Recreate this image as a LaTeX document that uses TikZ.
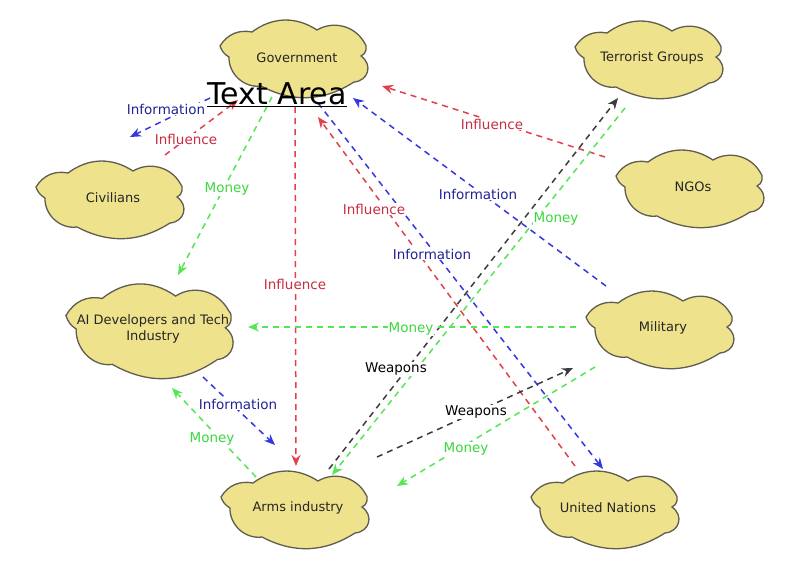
\documentclass[tikz,border=0pt]{standalone}
\usepackage{fontspec}
\setmainfont{DejaVu Sans}
\usetikzlibrary{arrows.meta}
\definecolor{cloudfill}{RGB}{238,226,140}
\definecolor{cloudline}{RGB}{95,92,80}
\definecolor{infoL}{RGB}{55,55,225}
\definecolor{inflL}{RGB}{225,65,75}
\definecolor{monL}{RGB}{85,230,85}
\definecolor{weapL}{RGB}{60,60,60}
\definecolor{infoT}{RGB}{35,35,150}
\definecolor{inflT}{RGB}{200,45,65}
\definecolor{monT}{RGB}{60,215,60}
\begin{document}
\begin{tikzpicture}[x=1pt,y=-1pt,
  cloudstyle/.style={draw=cloudline, fill=cloudfill, line width=1.3pt},
  cloudpic/.pic={
    \path[cloudstyle] (-77,-11) to[bend left=35] (-45,-25) to[bend left=35] (20,-27)
      to[bend left=45] (67,-15) to[bend left=60] (64,-1)
      to[bend left=70,looseness=1.4] (57,25) to[bend left=30] (-36,29)
      to[bend left=50] (-68,0) to[bend left=20] cycle;
  },
  cloudtext/.style={inner sep=0pt, font=\fontsize{13}{16}\selectfont, text=black!85, align=center},
  conn/.style={line width=1.5pt, dash pattern=on 6pt off 5pt,
    -{Stealth[length=11pt,width=9pt]}},
  info/.style={conn, infoL},
  infl/.style={conn, inflL},
  mon/.style={conn, monL},
  weap/.style={conn, weapL},
  lab/.style={fill=white, inner sep=1pt, font=\fontsize{13.5}{15}\selectfont},
  labinfo/.style={lab, text=infoT},
  labinfl/.style={lab, text=inflT},
  labmon/.style={lab, text=monT},
  labweap/.style={lab, text=black}
]
\useasboundingbox[fill=white] (0,0) rectangle (800,566);

% clouds
\pic at (297,57) {cloudpic};
\pic at (652,58) {cloudpic};
\pic at (693,187) {cloudpic};
\pic at (113,198) {cloudpic};
\pic[xscale=1.13,yscale=1.22] at (153,329) {cloudpic};
\pic at (663,328) {cloudpic};
\pic at (608,508) {cloudpic};
\pic at (298,508) {cloudpic};

\node[cloudtext] (gov) at (297,58) {Government};
\node[cloudtext] (terr) at (652,58) {Terrorist Groups};
\node[cloudtext] (ngo) at (693,187) {NGOs};
\node[cloudtext] (civ) at (113,198) {Civilians};
\node[cloudtext] (ai) at (153,329) {AI Developers and Tech\\Industry};
\node[cloudtext] (mil) at (663,328) {Military};
\node[cloudtext] (un) at (608,508) {United Nations};
\node[cloudtext] (arms) at (298,508) {Arms industry};

% connectors
\draw[info] ([shift={(-87,40)}]gov.center) -- ([shift={(17,-61)}]civ.center);
\draw[infl] ([shift={(52,-43)}]civ.center) -- ([shift={(-59,42)}]gov.center);
\draw[mon]  ([shift={(-25,39)}]gov.center) -- ([shift={(25,-54)}]ai.center);
\draw[infl] ([shift={(-2,49)}]gov.center) -- ([shift={(-2,-42)}]arms.center);
\draw[infl] ([shift={(-33,-42)}]un.center) -- ([shift={(21,59)}]gov.center);
\draw[info] ([shift={(-57,-42)}]mil.center) -- ([shift={(56,40)}]gov.center);
\draw[info] ([shift={(21,45)}]gov.center) -- ([shift={(-5,-39)}]un.center);
\draw[infl] ([shift={(-88,-30)}]ngo.center) -- ([shift={(85,28)}]gov.center);
\draw[weap] ([shift={(31,-39)}]arms.center) -- ([shift={(-34,40)}]terr.center);
\draw[mon]  ([shift={(-27,50)}]terr.center) -- ([shift={(34,-33)}]arms.center);
\draw[mon]  ([shift={(-87,-1)}]mil.center) -- ([shift={(95,-2)}]ai.center);
\draw[weap] ([shift={(79,-51)}]arms.center) -- ([shift={(-90,40)}]mil.center);
\draw[mon]  ([shift={(-68,39)}]mil.center) -- ([shift={(99,-22)}]arms.center);
\draw[info] ([shift={(50,48)}]ai.center) -- ([shift={(-23,-63)}]arms.center);
\draw[mon]  ([shift={(-42,-31)}]arms.center) -- ([shift={(19,59)}]ai.center);

% labels
\node[labinfo] (l1) at (166,109) {Information};
\node[labinfl] (l2) at (186,139) {Influence};
\node[labmon]  (l3) at (227,189) {Money};
\node[labinfl] (l4) at (295,284) {Influence};
\node[labinfl] (l5) at (374,209) {Influence};
\node[labinfo] (l6) at (478,194) {Information};
\node[labinfo] (l7) at (432,254) {Information};
\node[labinfl] (l8) at (492,124) {Influence};
\node[labweap] (l9) at (396,369) {Weapons};
\node[labmon]  (l10) at (556,219) {Money};
\node[labmon]  (l11) at (411,329) {Money};
\node[labweap] (l12) at (476,412) {Weapons};
\node[labmon]  (l13) at (466,449) {Money};
\node[labinfo] (l14) at (238,404) {Information};
\node[labmon]  (l15) at (212,439) {Money};

% text area
\node[font=\fontsize{30}{33}\selectfont, text=black, inner sep=0pt, anchor=base] (ta) at (277,104) {Text Area};
\draw[line width=1pt] ([yshift=-2pt]ta.base west) -- ([yshift=-2pt]ta.base east);
\end{tikzpicture}
\end{document}
